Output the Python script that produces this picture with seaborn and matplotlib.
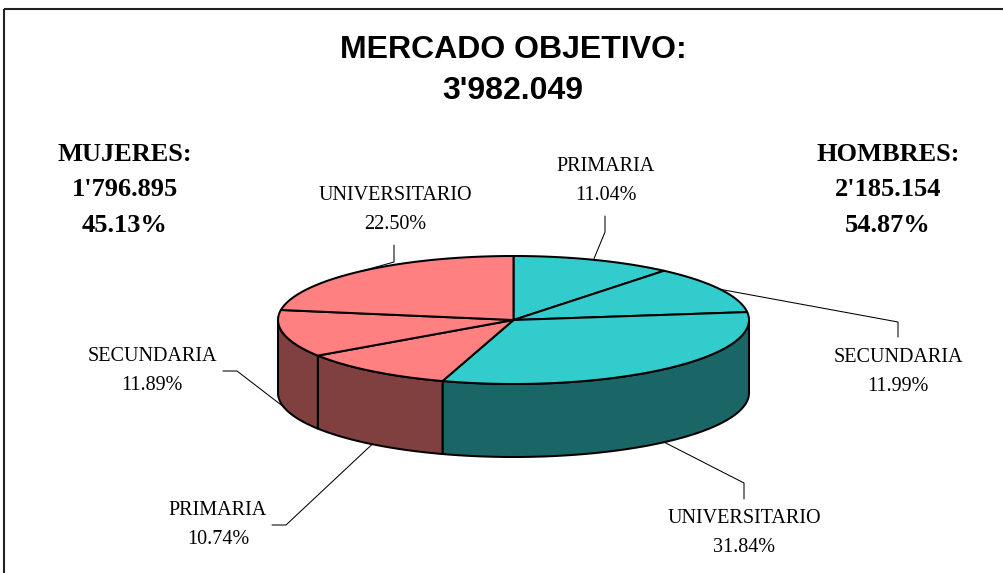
import numpy as np
import matplotlib
matplotlib.use("Agg")
import matplotlib.pyplot as plt
from matplotlib.patches import Polygon, Rectangle
import seaborn as sns


# data
SLICE_LABELS = ["PRIMARIA", "SECUNDARIA", "UNIVERSITARIO",
                "PRIMARIA", "SECUNDARIA", "UNIVERSITARIO"]
SLICE_PCT = [11.04, 11.99, 31.84, 10.74, 11.89, 22.50]
GROUP_NAMES = ["HOMBRES:", "MUJERES:"]
GROUP_TOTALS = ["2'185.154", "1'796.895"]
GROUP_PCT = [54.87, 45.13]
TITLE = "MERCADO OBJETIVO:"
TOTAL = "3'982.049"

TOP_COLORS = ["#33CCCC"] * 3 + ["#FF8080"] * 3
SIDE_COLORS = ["#1A6666"] * 3 + ["#804040"] * 3

# layout (pixels)
CX, CY = 513.5, 320
RX, RY = 235.5, 64
DEPTH = 73

# elbow point, end of leader, label centre
LEADERS = [
    ((605, 232), (605, 216), (606, 181)),
    ((898, 322), (898, 337), (898, 372)),
    ((744, 483), (744, 499), (744, 533)),
    ((286, 525), (272, 525), (218, 525)),
    ((237, 371), (223, 371), (152, 371)),
    ((394, 262), (394, 245), (395, 210)),
]

LW = 1.45


def ell(t, drop=0.0):
    t = np.radians(t)
    return np.column_stack([CX + RX * np.cos(t), CY - RY * np.sin(t) + drop])


def draw_pie(ax):
    bounds = 90 - 3.6 * np.concatenate([[0], np.cumsum(SLICE_PCT)])

    # side walls (front half only)
    for i in range(len(SLICE_PCT)):
        hi, lo = bounds[i], bounds[i + 1]
        a, b = max(lo, -180), min(hi, 0)
        if a >= b:
            continue
        ts = np.linspace(a, b, 80)
        pts = np.vstack([ell(ts), ell(ts[::-1], DEPTH)])
        ax.add_patch(Polygon(pts, closed=True, facecolor=SIDE_COLORS[i],
                             edgecolor="black", lw=LW, joinstyle="round"))

    # top face
    for i in range(len(SLICE_PCT)):
        ts = np.linspace(bounds[i], bounds[i + 1], 80)
        pts = np.vstack([[CX, CY], ell(ts)])
        ax.add_patch(Polygon(pts, closed=True, facecolor=TOP_COLORS[i],
                             edgecolor="black", lw=LW, joinstyle="round"))

    # labels with leader lines
    for i, lab in enumerate(SLICE_LABELS):
        mid = (bounds[i] + bounds[i + 1]) / 2
        drop = DEPTH if np.sin(np.radians(mid)) < 0 else 0
        start = ell([mid], drop)[0]
        elbow, end, txt = LEADERS[i]
        ax.plot([start[0], elbow[0], end[0]], [start[1], elbow[1], end[1]],
                color="black", lw=0.75)
        ax.text(txt[0], txt[1], f"{lab}\n{SLICE_PCT[i]:.2f}%",
                ha="center", va="center", fontsize=14.5, color="black",
                family="Liberation Serif", linespacing=1.78)


def main():
    sns.set_style("white")

    fig = plt.figure(figsize=(10.04, 5.73), dpi=100)
    ax = fig.add_axes([0, 0, 1, 1])
    ax.set_xlim(0, 1004)
    ax.set_ylim(573, 0)
    ax.axis("off")

    ax.add_patch(Rectangle((4, 9), 1020, 600, fill=False,
                           edgecolor="#222222", lw=1.5))

    title_font = dict(ha="center", va="baseline", fontsize=23,
                      fontweight="bold", color="black",
                      family=["Liberation Sans Narrow", "Liberation Sans"])
    ax.text(513, 58.5, TITLE, **title_font)
    ax.text(513, 99, TOTAL, **title_font)

    draw_pie(ax)

    for x, name, tot, pct in [(888, GROUP_NAMES[0], GROUP_TOTALS[0], GROUP_PCT[0]),
                              (125, GROUP_NAMES[1], GROUP_TOTALS[1], GROUP_PCT[1])]:
        ax.text(x, 190, f"{name}\n{tot}\n{pct:.2f}%", ha="center",
                va="center", fontsize=19, fontweight="bold", color="black",
                family="Liberation Serif", linespacing=1.72)

    fig.savefig("out.png", dpi=100)


if __name__ == "__main__":
    main()
